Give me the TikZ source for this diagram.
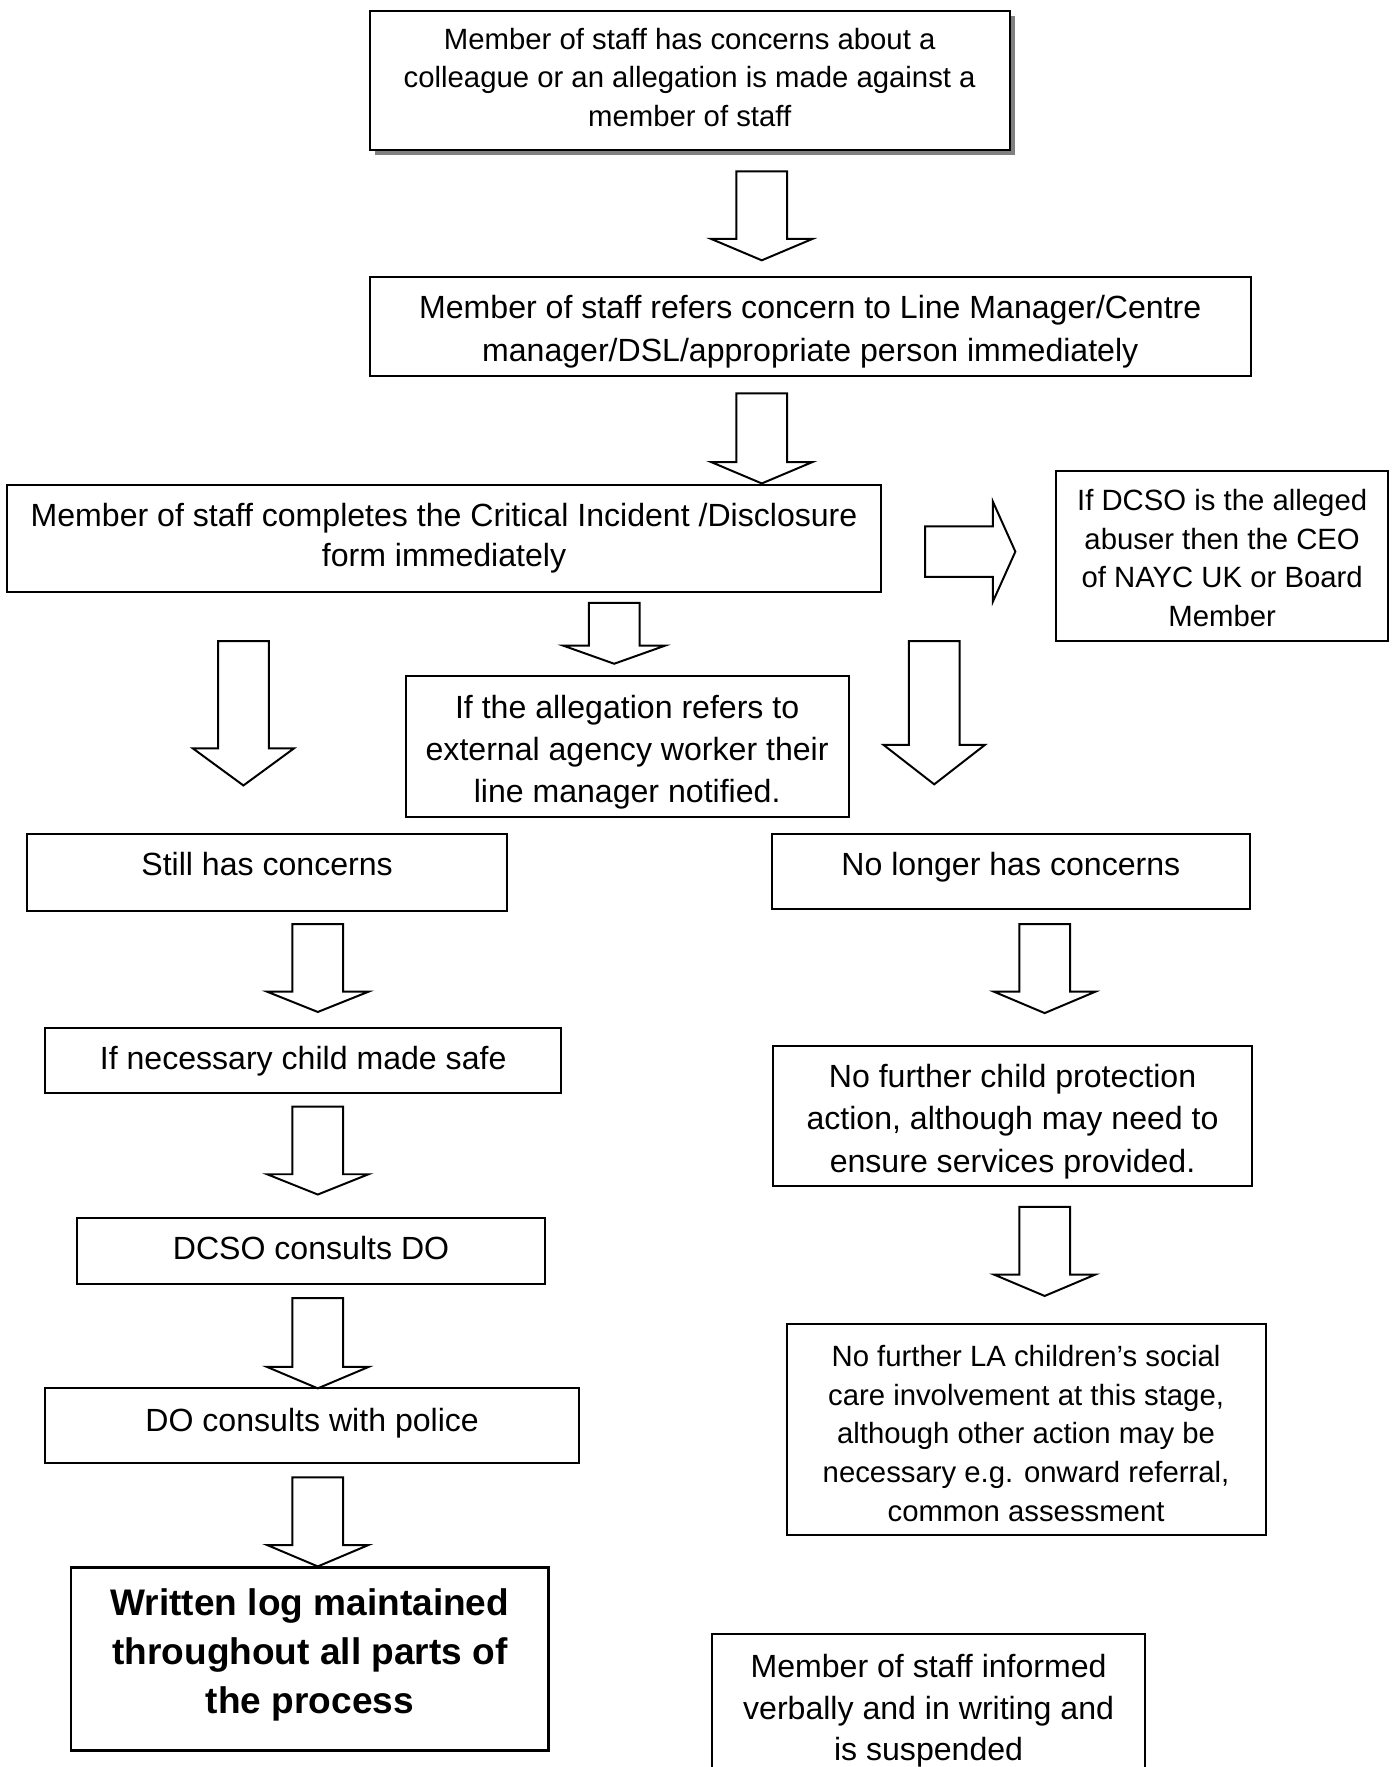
\documentclass[tikz,border=0pt]{standalone}
\usepackage{fontspec}
\setmainfont{Liberation Sans}
\usetikzlibrary{shadows}

\begin{document}
\begin{tikzpicture}[
  box/.style={draw, rectangle, line width=1pt, inner sep=2pt, align=center,
    font=\fontsize{16.2}{21}\selectfont},
  txt/.style 2 args={font=\fontsize{#1}{#2}\selectfont},
  textlift/.style={text height=#1, text depth=0pt},
  blockarrow/.style={draw, line width=1pt, fill=white, line join=miter}
]
\useasboundingbox (0,0) rectangle (24.82,-31.36);

% Start of the procedure
\node[box, txt={14.8}{19.3pt}, textlift=46pt, minimum width=11.36cm, minimum height=2.46cm,
  fill=white, drop shadow={shadow xshift=2.5pt, shadow yshift=-2.5pt, fill=gray, opacity=1}]
  (concern) at (12.24,-1.43)
  {Member of staff has concerns about a\\colleague or an allegation is made against a\\member of staff};
\node[box, txt={16.2}{21.5pt}, textlift=35pt, minimum width=15.64cm, minimum height=1.76cm] (refer) at (14.38,-5.80)
  {Member of staff refers concern to Line Manager/Centre\\manager/DSL/appropriate person immediately};
\node[box, txt={16.2}{20.4pt}, textlift=29pt, minimum width=15.52cm, minimum height=1.90cm] (form) at (7.88,-9.55)
  {Member of staff completes the Critical Incident /Disclosure\\form immediately};
\node[box, txt={14.8}{19.5pt}, textlift=71pt, minimum width=5.90cm, minimum height=3.02cm] (ceo) at (21.69,-9.87)
  {If DCSO is the alleged\\abuser then the CEO\\of NAYC UK or Board\\Member};
\node[box, textlift=56pt, minimum width=7.86cm, minimum height=2.50cm] (agency) at (11.13,-13.25)
  {If the allegation refers to\\external agency worker their\\line manager notified.};

% Left branch
\node[box, textlift=3.4pt, minimum width=8.52cm, minimum height=1.36cm] (still) at (4.74,-15.48)
  {Still has concerns};
\node[box, textlift=9pt, minimum width=9.16cm, minimum height=1.16cm] (safe) at (5.38,-18.82)
  {If necessary child made safe};
\node[box, textlift=9pt, minimum width=8.32cm, minimum height=1.16cm] (dcso) at (5.52,-22.20)
  {DCSO consults DO};
\node[box, textlift=5.7pt, minimum width=9.48cm, minimum height=1.32cm] (police) at (5.54,-25.30)
  {DO consults with police};
\node[box, line width=1.4pt, textlift=55pt, minimum width=8.48cm, minimum height=3.24cm,
  font=\bfseries\fontsize{18.7}{24.7}\selectfont] (writtenlog) at (5.50,-29.44)
  {Written log maintained\\throughout all parts of\\the process};

% Right branch
\node[box, textlift=4pt, minimum width=8.48cm, minimum height=1.34cm] (nolonger) at (17.94,-15.47)
  {No longer has concerns};
\node[box, txt={16.2}{21.3pt}, textlift=57pt, minimum width=8.50cm, minimum height=2.48cm] (nofurther) at (17.97,-19.80)
  {No further child protection\\action, although may need to\\ensure services provided.};
\node[box, txt={14.8}{19.6pt}, textlift=93pt, minimum width=8.50cm, minimum height=3.74cm] (noLA) at (18.21,-25.37)
  {No further LA children’s social\\care involvement at this stage,\\although other action may be\\necessary e.g. onward referral,\\common assessment};
\node[box, textlift=54pt, minimum width=7.68cm, minimum height=2.60cm] (suspend) at (16.48,-30.30)
  {Member of staff informed\\verbally and in writing and\\is suspended};

% Block arrows (top centre / shaft length / head length)
\foreach \x/\y/\s/\h in {13.52/-3.04/1.20/0.38, 13.52/-6.98/1.22/0.38, 10.90/-10.70/0.76/0.32,
    4.32/-11.38/1.90/0.66, 16.58/-11.38/1.84/0.70,
    5.64/-16.40/1.20/0.36, 5.64/-19.64/1.20/0.36, 5.64/-23.04/1.22/0.38, 5.64/-26.22/1.20/0.38,
    18.54/-16.40/1.20/0.38, 18.54/-21.42/1.20/0.38}
  \draw[blockarrow] (\x-0.45,\y) -- (\x+0.45,\y) -- (\x+0.45,\y-\s) -- (\x+0.9,\y-\s)
    -- (\x,\y-\s-\h) -- (\x-0.9,\y-\s) -- (\x-0.45,\y-\s) -- cycle;

% Arrow towards the CEO box
\draw[blockarrow] (16.42,-9.34) -- (17.62,-9.34) -- (17.62,-8.90) -- (18.02,-9.79)
  -- (17.62,-10.68) -- (17.62,-10.24) -- (16.42,-10.24) -- cycle;

\end{tikzpicture}
\end{document}
